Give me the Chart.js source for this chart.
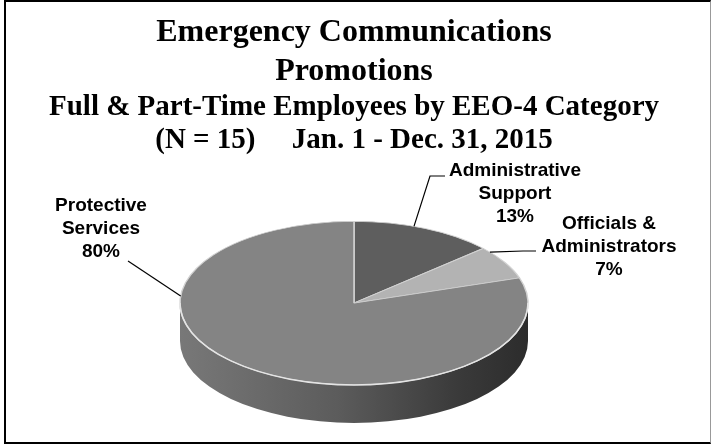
<!DOCTYPE html>
<html>
<head>
<meta charset="utf-8">
<title>Emergency Communications Promotions</title>
<script src="https://cdn.jsdelivr.net/npm/chart.js@4.4.1/dist/chart.umd.min.js"></script>
<style>
  body { margin: 0; background: #fff; }
  #wrap { position: relative; width: 711px; height: 445px; }
  #wrap canvas { position: absolute; left: 0; top: 0; }
  #frame {
    position: absolute; left: 4px; top: 0; width: 704px; height: 440px;
    border-left: 2px solid #000; border-top: 2px solid #000;
    border-bottom: 2px solid #000; border-right: 1px solid #999;
    pointer-events: none;
  }
</style>
</head>
<body>
<div id="wrap">
  <canvas id="pieChart" width="711" height="445"></canvas>
  <div id="frame"></div>
</div>
<script>
// promotions per EEO-4 category, clockwise from 12 o'clock
const categories = ['Administrative\nSupport', 'Officials &\nAdministrators', 'Protective\nServices'];
const promotions = [2, 1, 12];
const sliceColors = ['#5e5e5e', '#b3b3b3', '#848484'];

const total = promotions.reduce((a, b) => a + b, 0);

const TILT = 0.47;   // vertical squash of the pie top
const DEPTH = 38;    // height of the pie wall

// label placement: text centre, leader bend points, where the leader meets the slice (0..1 along its arc)
const labelLayout = [
    { x: 515, y: 171, leader: [[430, 176], [445, 176]], at: 0.42 },
    { x: 609, y: 224, leader: [[523, 251], [536, 251]], at: 0.14 },
    { x: 101, y: 206, leader: [[128, 261]], at: 0.705 }
];

const pie3d = {
    id: 'pie3d',
    beforeDatasetsDraw(chart) {
        const ctx = chart.ctx;
        const arcs = chart.getDatasetMeta(0).data;
        const { x: cx, y: cy, outerRadius: r } = arcs[0];
        const ry = r * TILT;

        // wall under the front half of the pie
        const wall = ctx.createLinearGradient(cx - r, 0, cx + r, 0);
        wall.addColorStop(0, '#787878');
        wall.addColorStop(0.45, '#5c5c5c');
        wall.addColorStop(0.8, '#3a3a3a');
        wall.addColorStop(1, '#2c2c2c');
        ctx.save();
        arcs.forEach(arc => {
            const a0 = Math.max(arc.startAngle, 0);
            const a1 = Math.min(arc.endAngle, Math.PI);
            if (a1 <= a0) return;
            ctx.beginPath();
            ctx.ellipse(cx, cy, r, ry, 0, a0, a1);
            ctx.ellipse(cx, cy + DEPTH, r, ry, 0, a1, a0, true);
            ctx.closePath();
            ctx.fillStyle = wall;
            ctx.fill();
        });
        ctx.restore();

        // squash the round pie into the tilted top face
        ctx.save();
        ctx.translate(cx, cy);
        ctx.scale(1, TILT);
        ctx.translate(-cx, -cy);
    },
    afterDatasetsDraw(chart) {
        const ctx = chart.ctx;
        ctx.restore();

        const arcs = chart.getDatasetMeta(0).data;
        const { x: cx, y: cy, outerRadius: r } = arcs[0];
        const ry = r * TILT;

        // light edge where the top meets the wall
        ctx.save();
        ctx.beginPath();
        ctx.ellipse(cx, cy, r, ry, 0, 0, Math.PI);
        ctx.strokeStyle = '#e4e4e4';
        ctx.lineWidth = 1.5;
        ctx.stroke();
        ctx.restore();

        // data labels with leader lines
        ctx.save();
        ctx.font = 'bold 19px "Liberation Sans", Arial, sans-serif';
        ctx.fillStyle = '#000';
        ctx.textAlign = 'center';
        ctx.textBaseline = 'middle';
        ctx.strokeStyle = '#000';
        ctx.lineWidth = 1.2;
        arcs.forEach((arc, i) => {
            const lay = labelLayout[i];
            const a = arc.startAngle + lay.at * (arc.endAngle - arc.startAngle);
            ctx.beginPath();
            ctx.moveTo(cx + r * Math.cos(a), cy + ry * Math.sin(a));
            lay.leader.forEach(p => ctx.lineTo(p[0], p[1]));
            ctx.stroke();

            const pct = Math.round(promotions[i] / total * 100) + '%';
            const lines = categories[i].split('\n').concat(pct);
            lines.forEach((t, k) => ctx.fillText(t, lay.x, lay.y + k * 23));
        });
        ctx.restore();
    }
};

const ctxPie = document.getElementById('pieChart').getContext('2d');
new Chart(ctxPie, {
    type: 'pie',
    data: {
        labels: categories,
        datasets: [{
            data: promotions,
            backgroundColor: sliceColors,
            borderColor: '#d2d2d2',
            borderWidth: 1.5
        }]
    },
    options: {
        responsive: false,
        animation: false,
        radius: 174,
        layout: { padding: { right: 3 } },
        plugins: {
            legend: { display: false },
            tooltip: { enabled: false },
            title: {
                display: true,
                text: ['Emergency Communications', 'Promotions'],
                color: '#000',
                font: { family: '"Liberation Serif", "Times New Roman", serif', size: 32, weight: 'bold', lineHeight: 1.22 },
                padding: { top: 13, bottom: 0 }
            },
            subtitle: {
                display: true,
                text: ['Full & Part-Time Employees by EEO-4 Category', '(N = ' + total + ')     Jan. 1 - Dec. 31, 2015'],
                color: '#000',
                font: { family: '"Liberation Serif", "Times New Roman", serif', size: 29, weight: 'bold', lineHeight: 1.14 },
                padding: { top: 0, bottom: 4 }
            }
        }
    },
    plugins: [pie3d]
});
</script>
</body>
</html>
